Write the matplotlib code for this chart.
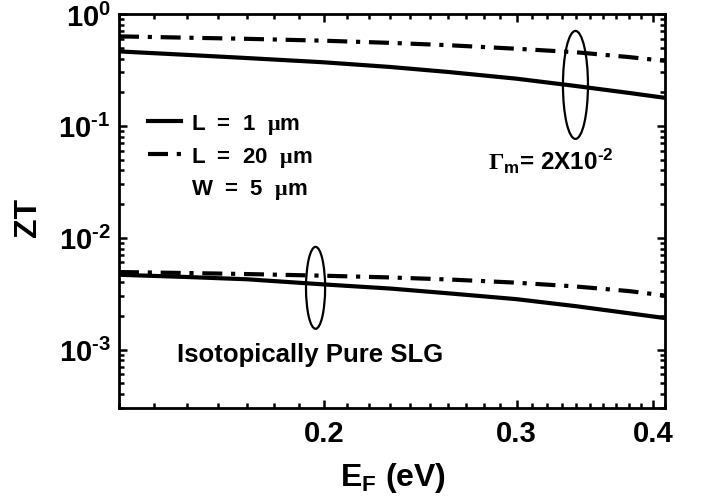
import matplotlib
matplotlib.use('Agg')
import numpy as np
import matplotlib.pyplot as plt
import matplotlib.ticker as mt
from matplotlib.patches import Ellipse
from matplotlib.lines import Line2D

plt.rcParams.update({
    'font.family': ['Liberation Sans', 'DejaVu Sans'],
    'font.weight': 'bold',
    'mathtext.fontset': 'custom',
    'mathtext.rm': 'Liberation Sans:bold',
    'mathtext.bf': 'Liberation Sans:bold',
    'mathtext.it': 'Liberation Sans:bold',
    'mathtext.sf': 'Liberation Sans:bold',
    'mathtext.cal': 'Liberation Serif',
    'mathtext.default': 'rm',
})

# Data
ef = [0.13, 0.15, 0.17, 0.20, 0.23, 0.26, 0.30, 0.34, 0.38, 0.41]
zt_L1_gm = [0.463, 0.431, 0.404, 0.370, 0.336, 0.303, 0.264, 0.227, 0.197, 0.178]
zt_L20_gm = [0.631, 0.614, 0.600, 0.577, 0.552, 0.526, 0.489, 0.455, 0.412, 0.381]
zt_L1_pure = [0.00466, 0.00445, 0.00425, 0.00382, 0.00351, 0.00318, 0.00282, 0.00244, 0.00211, 0.00191]
zt_L20_pure = [0.00493, 0.00483, 0.00473, 0.00457, 0.00441, 0.00423, 0.00396, 0.00366, 0.00333, 0.00304]
xticks = [0.2, 0.3, 0.4]
xticklabels = ['0.2', '0.3', '0.4']

HY = '\u2010'

fig = plt.figure(figsize=(7.01, 5.02), dpi=100)
ax = fig.add_axes([119/701, 1-409/502, 546/701, 394/502])

dashdot = (0, (4.8, 2.1, 1.0, 2.1))
lw = 3.0
ax.plot(ef, zt_L1_gm, color='black', lw=lw, solid_capstyle='butt')
ax.plot(ef, zt_L20_gm, color='black', lw=lw, linestyle=dashdot, dash_capstyle='butt')
ax.plot(ef, zt_L1_pure, color='black', lw=lw, solid_capstyle='butt')
ax.plot(ef, zt_L20_pure, color='black', lw=lw, linestyle=dashdot, dash_capstyle='butt')

ax.set_xscale('log')
ax.set_yscale('log')
ax.set_xlim(0.13, 0.41)
ax.set_ylim(3e-4, 1.0)

ax.xaxis.set_major_locator(mt.FixedLocator(xticks))
ax.xaxis.set_major_formatter(mt.FixedFormatter(xticklabels))
ax.xaxis.set_minor_locator(mt.MultipleLocator(0.01))
ax.xaxis.set_minor_formatter(mt.NullFormatter())


def yfmt(v, p):
    n = int(round(np.log10(v)))
    s = str(n) if n >= 0 else HY + str(-n)
    return '$10^{%s}$' % s


ax.yaxis.set_major_locator(mt.LogLocator(base=10, numticks=10))
ax.yaxis.set_minor_locator(mt.LogLocator(base=10, subs=np.arange(2, 10), numticks=20))
ax.yaxis.set_major_formatter(mt.FuncFormatter(yfmt))
ax.yaxis.set_minor_formatter(mt.NullFormatter())

for s in ax.spines.values():
    s.set_linewidth(2.0)
ax.tick_params(which='both', direction='in', top=True, right=True, width=1.8)
ax.tick_params(which='major', length=6)
ax.tick_params(which='minor', length=3.5)
ax.tick_params(axis='x', which='major', labelsize=21, pad=8)
ax.tick_params(axis='y', which='major', labelsize=21, pad=6)

ax.set_xlabel(r'E$_{\rm F}$ (eV)', fontsize=23, fontweight='bold')
ax.xaxis.label.set_va('center')
ax.xaxis.set_label_coords(0.502, -0.175)
ax.set_ylabel('ZT', fontsize=23, fontweight='bold')
ax.yaxis.label.set_va('center')
ax.yaxis.set_label_coords(-0.167, 0.485)

# Ellipses (axes coordinates)
ax.add_patch(Ellipse((0.836, 0.820), 0.0458, 0.274, transform=ax.transAxes,
                     fill=False, lw=1.6, ec='black'))
ax.add_patch(Ellipse((0.360, 0.305), 0.035, 0.208, transform=ax.transAxes,
                     fill=False, lw=1.6, ec='black'))

ax.text(0.676, 0.607, r'$\mathcal{\Gamma}_{m}$= 2X10$^{' + HY + '2}$', transform=ax.transAxes,
        fontsize=17.5, fontweight='bold', ha='left', va='baseline')
ax.text(0.35, 0.119, 'Isotopically Pure SLG', transform=ax.transAxes,
        fontsize=18.5, fontweight='bold', ha='center', va='baseline')

handles = [Line2D([], [], color='black', lw=lw),
           Line2D([], [], color='black', lw=lw, linestyle=dashdot, dash_capstyle='butt'),
           Line2D([], [], color='none', lw=lw)]
labels = [r'L  =  1  $\mathcal{\mu}$m', r'L  =  20  $\mathcal{\mu}$m', r'W  =  5  $\mathcal{\mu}$m']
ax.legend(handles, labels, loc='upper left', bbox_to_anchor=(0.053, 0.752),
          frameon=False, borderpad=0, borderaxespad=0, handlelength=1.5,
          handletextpad=0.45, labelspacing=0.4, prop={'size': 16, 'weight': 'bold'})

fig.savefig('out.png', dpi=100)
